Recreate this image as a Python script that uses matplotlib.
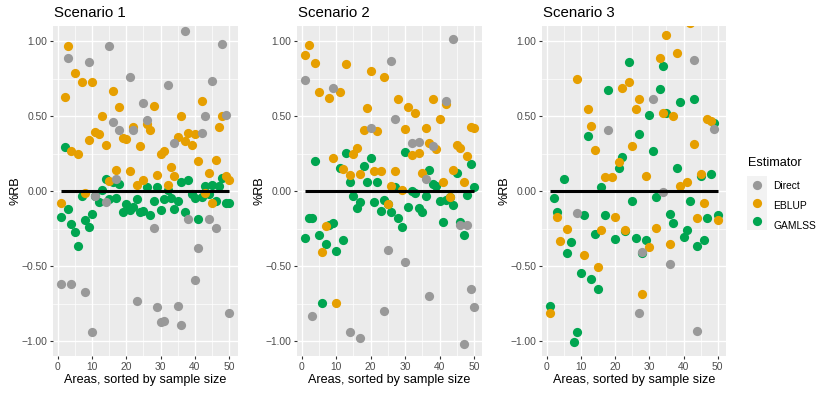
import numpy as np
import matplotlib
matplotlib.use("Agg")
import matplotlib.pyplot as plt

plt.rcParams["font.family"] = ["Liberation Sans", "DejaVu Sans"]

nan = np.nan
areas = np.arange(1, 51)
scenarios = ["Scenario 1", "Scenario 2", "Scenario 3"]
estimators = ["Direct", "EBLUP", "GAMLSS"]

# %RB per area (NaN = not visible in the panel)
s1_direct = [-0.62, nan, 0.89, -0.62, nan, nan, nan, -0.675, 0.86, -0.94,
             -0.03, nan, nan, -0.075, 0.97, 0.46, 0.08, 0.41, nan, nan,
             0.76, 0.41, -0.73, nan, 0.59, 0.475, nan, -0.245, -0.77, -0.87,
             -0.865, 0.705, nan, 0.32, -0.765, -0.89, 1.065, -0.185, nan, -0.595,
             -0.38, 0.385, 0.50, -0.185, 0.735, -0.245, nan, 0.98, 0.51, -0.81]
s1_eblup = [-0.08, 0.625, 0.97, 0.265, 0.79, 0.245, 0.73, -0.01, 0.34, 0.725,
            0.395, 0.38, 0.50, 0.305, 0.065, 0.67, 0.14, 0.56, 0.355, 0.345,
            0.135, 0.425, 0.04, 0.30, 0.075, 0.45, 0.41, 0.57, 0.105, 0.25,
            0.265, 0.04, 0.16, 0.10, 0.36, 0.50, 0.335, 0.385, 0.31, 0.38,
            0.20, 0.60, -0.01, 0.12, -0.08, 0.205, 0.425, 0.50, 0.10, 0.075]
s1_gamlss = [-0.172, 0.295, -0.122, -0.222, -0.275, -0.365, -0.031, -0.195, -0.243, -0.153,
             -0.03, -0.076, 0.007, 0.08, -0.053, 0.06, -0.044, 0.05, -0.142, -0.087,
             -0.128, -0.105, -0.053, -0.138, -0.133, 0.026, -0.16, -0.065, 0.026, -0.126,
             -0.055, 0.008, -0.045, -0.122, -0.068, 0.058, -0.143, 0.072, -0.023, -0.044,
             -0.187, -0.038, 0.036, -0.022, 0.038, -0.066, 0.035, 0.089, -0.082, -0.082]

s2_direct = [0.74, nan, -0.833, nan, nan, nan, nan, nan, 0.689, nan,
             nan, nan, nan, -0.938, nan, nan, -0.98, nan, nan, 0.418,
             nan, nan, nan, -0.80, -0.393, 0.864, 0.48, nan, nan, -0.473,
             nan, 0.318, nan, 0.327, nan, 0.08, -0.702, 0.30, nan, nan,
             nan, 0.602, nan, 1.011, nan, -0.229, -1.022, -0.229, -0.653, -0.771]
s2_eblup = [0.907, 0.973, nan, 0.851, 0.66, -0.404, -0.233, 0.622, 0.218, -0.749,
            0.658, 0.144, 0.847, 0.104, 0.247, 0.289, 0.116, 0.404, 0.551, 0.798,
            0.133, 0.40, 0.133, 0.758, -0.088, 0.036, 0.136, 0.613, 0.008, 0.411,
            0.558, 0.24, 0.522, 0.256, 0.122, 0.42, 0.318, 0.613, 0.278, 0.482,
            0.062, 0.58, -0.042, 0.142, 0.307, 0.289, 0.062, 0.236, 0.425, 0.418]
s2_gamlss = [-0.316, -0.178, -0.178, 0.20, -0.293, -0.744, -0.356, -0.227, -0.213, -0.40,
             0.156, -0.327, 0.256, 0.057, -0.031, -0.116, -0.071, 0.169, 0.058, 0.218,
             -0.076, 0.062, -0.135, -0.058, -0.088, -0.138, 0.03, -0.182, -0.242, 0.262,
             -0.104, 0.003, -0.016, -0.11, -0.138, -0.031, 0.142, 0.046, 0.031, -0.064,
             -0.209, -0.06, -0.042, -0.09, 0.122, -0.206, -0.293, -0.027, 0.182, 0.03]

s3_direct = [nan, nan, nan, nan, nan, nan, nan, nan, -0.144, nan,
             nan, nan, nan, nan, nan, nan, nan, 0.404, nan, nan,
             nan, nan, nan, nan, nan, nan, -0.811, -0.409, nan, nan,
             0.616, nan, nan, -0.004, nan, -0.484, nan, nan, nan, nan,
             nan, nan, 0.873, -0.931, nan, nan, nan, nan, 0.413, nan]
s3_eblup = [-0.811, nan, -0.176, -0.336, nan, -0.253, nan, nan, 0.749, nan,
            -0.427, 0.544, 0.433, 0.276, -0.509, -0.262, 0.094, nan, 0.094, -0.175,
            0.191, 0.684, -0.26, 0.727, 0.298, 0.544, 0.611, -0.684, 0.103, -0.371,
            nan, -0.249, 0.889, 0.518, 1.04, -0.351, 0.502, 0.918, 0.031, nan,
            0.058, 1.118, 0.313, -0.183, 0.113, -0.078, 0.482, 0.469, nan, -0.193]
s3_gamlss = [-0.764, -0.049, -0.139, nan, 0.078, -0.416, -0.34, -1.009, -0.938, -0.544,
             -0.159, 0.369, -0.584, -0.289, -0.653, 0.026, -0.163, 0.673, nan, -0.32,
             0.151, 0.229, -0.264, 0.86, -0.068, -0.313, 0.378, -0.416, -0.327, 0.509,
             0.269, -0.042, 0.682, 0.831, 0.522, -0.151, -0.216, 0.153, 0.593, -0.309,
             -0.26, -0.064, 0.616, -0.364, 0.10, -0.329, -0.182, 0.113, 0.456, -0.158]

panels = [
    {"Direct": s1_direct, "EBLUP": s1_eblup, "GAMLSS": s1_gamlss},
    {"Direct": s2_direct, "EBLUP": s2_eblup, "GAMLSS": s2_gamlss},
    {"Direct": s3_direct, "EBLUP": s3_eblup, "GAMLSS": s3_gamlss},
]
colors = {"Direct": "#999999", "EBLUP": "#E69F00", "GAMLSS": "#00A550"}
yticks = [-1.0, -0.5, 0.0, 0.5, 1.0]

W, H = 830, 393
fig = plt.figure(figsize=(W / 100, H / 100), dpi=100)
lefts = [52.7, 296.7, 541.7]
widths = [185.0, 185.7, 184.4]
top, bottom = 26, 356

for k, (name, d) in enumerate(zip(scenarios, panels)):
    ax = fig.add_axes([lefts[k] / W, 1 - bottom / H, widths[k] / W, (bottom - top) / H])
    ax.set_facecolor("#EBEBEB")
    for s in ax.spines.values():
        s.set_visible(False)
    ax.set_xlim(-1.45, 52.45)
    ax.set_ylim(-1.1, 1.1)
    ax.set_xticks(range(0, 51, 10))
    ax.set_xticks(range(5, 51, 10), minor=True)
    ax.set_yticks(yticks)
    ax.set_yticks([-0.75, -0.25, 0.25, 0.75], minor=True)
    ax.set_yticklabels([f"{v:.2f}".replace("-", "\u2212") for v in yticks])
    ax.grid(True, which="major", color="white", lw=1.0)
    ax.grid(True, which="minor", color="white", lw=0.5)
    ax.set_axisbelow(True)
    ax.tick_params(which="major", length=2.5, width=0.8, color="#333333",
                   labelsize=7.4, labelcolor="#4D4D4D", pad=1.5)
    ax.tick_params(which="minor", length=0)
    for z, est in enumerate(["GAMLSS", "EBLUP", "Direct"]):
        ax.scatter(areas, d[est], s=44, color=colors[est], lw=0, zorder=3 + z)
    ax.plot([1, 50], [0, 0], color="black", lw=2.2, zorder=10, solid_capstyle="butt")
    ax.set_xlabel("Areas, sorted by sample size", fontsize=9.1, color="black")
    ax.xaxis.set_label_coords(0.5, -0.055)
    ax.xaxis.label.set_va("top")
    ax.set_ylabel("%RB", fontsize=9.1, color="black")
    ax.yaxis.set_label_coords(-0.17, 0.5)
    fig.text(lefts[k] / W + 0.001, 1 - 17.3 / H, name, fontsize=10.8, va="baseline", ha="left")

# legend
fig.text(747.7 / W, 1 - 163.3 / H, "Estimator", fontsize=9.1, va="center", ha="left")
lax = fig.add_axes([746.7 / W, 1 - 230 / H, 20 / W, 54.3 / H])
lax.set_xlim(0, 1)
lax.set_ylim(0, 3)
lax.axis("off")
lax.add_patch(plt.Rectangle((0, 0), 1, 3, color="#F2F2F2", zorder=0))
for j, est in enumerate(estimators):
    yy = 2.5 - j
    lax.scatter([0.5], [yy], s=44, color=colors[est], lw=0, zorder=2)
    fig.text(773.3 / W, 1 - (185.7 + 20 * j) / H, est, fontsize=7.4, va="center", ha="left")

fig.savefig("out.png", dpi=100)
